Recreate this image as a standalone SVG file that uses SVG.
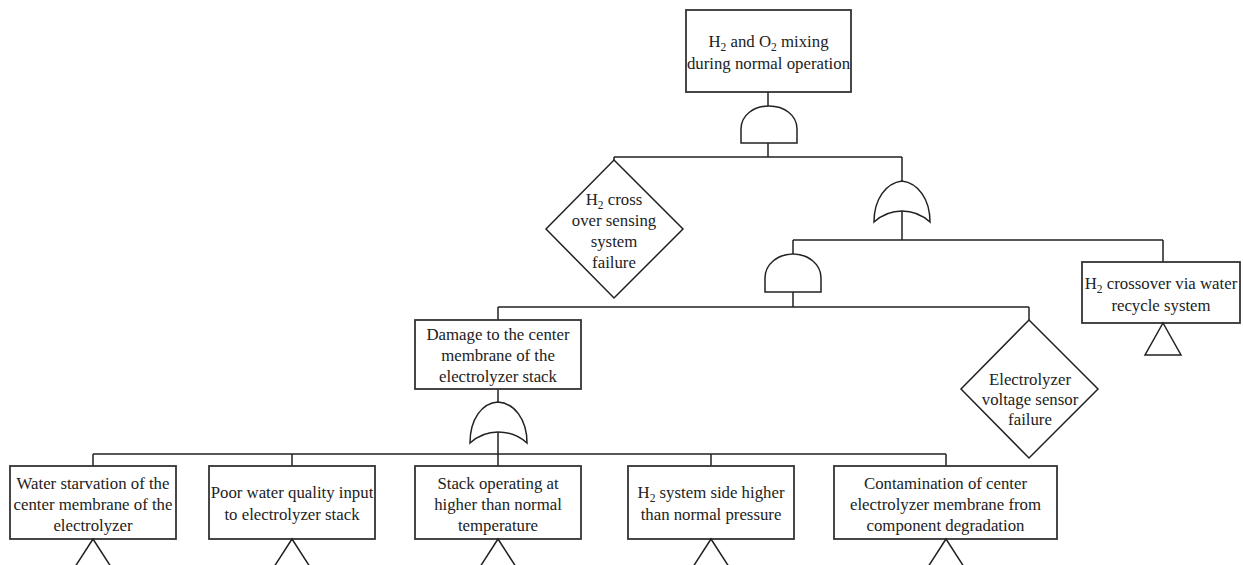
<svg xmlns="http://www.w3.org/2000/svg" width="1243" height="565" viewBox="0 0 1243 565">
<style>
.box{fill:#fff;stroke:#333;stroke-width:1.8}
.gate{fill:#fff;stroke:#222;stroke-width:1.5}
.ln{fill:none;stroke:#222;stroke-width:1.5}
.t{font-family:"Liberation Serif","Times New Roman",serif;font-size:16.8px;fill:#222;text-anchor:middle}
.sub{font-size:11.5px}
</style>
<rect width="1243" height="565" fill="#fff"/>
<g id="connectors">
<path class="ln" d="M768,92V106M768,143V157M614,157H902M614,157V161M902,157V181M902,211V240M793,240H1163M793,240V254M1163,240V262M793,292V307M498,307H1029M498,307V320M1029,307V320M498,389V402M498,432V454M93,454H946M93,454V466M292,454V466M498,454V466M711,454V466M946,454V466"/>
</g>
<g id="top-event">
<rect class="box" x="686" y="10" width="165" height="82"/>
<text class="t" x="768.5" y="47">H<tspan class="sub" dy="4">2</tspan><tspan dy="-4"> and O</tspan><tspan class="sub" dy="4">2</tspan><tspan dy="-4"> mixing</tspan></text>
<text class="t" x="768.5" y="69">during normal operation</text>
</g>
<g id="and-gate-1">
<path class="gate" d="M741,143V129C741,115 754,106 769,106C784,106 797,115 797,129V143Z"/>
</g>
<g id="diamond-h2-sensing">
<polygon class="gate" points="614,160 683,229 614,298 546,229"/>
<text class="t" x="614" y="205">H<tspan class="sub" dy="4">2</tspan><tspan dy="-4"> cross</tspan></text>
<text class="t" x="614" y="226">over sensing</text>
<text class="t" x="614" y="247">system</text>
<text class="t" x="614" y="268">failure</text>
</g>
<g id="or-gate-1">
<path class="gate" d="M874,222C874,199 886,183 902,181C918,183 930,199 930,222C920,213 911,211 902,211C893,211 884,213 874,222Z"/>
</g>
<g id="and-gate-2">
<path class="gate" d="M765,292V278C765,264 778,254 793,254C808,254 821,264 821,278V292Z"/>
</g>
<g id="h2-water-recycle">
<rect class="box" x="1082" y="262" width="158" height="61"/>
<text class="t" x="1161" y="289">H<tspan class="sub" dy="4">2</tspan><tspan dy="-4"> crossover via water</tspan></text>
<text class="t" x="1161" y="311">recycle system</text>
<polygon class="gate" points="1163,323 1181,355 1145,355"/>
</g>
<g id="damage-membrane">
<rect class="box" x="415" y="320" width="166" height="69"/>
<text class="t" x="498" y="340">Damage to the center</text>
<text class="t" x="498" y="361">membrane of the</text>
<text class="t" x="498" y="382">electrolyzer stack</text>
</g>
<g id="diamond-voltage-sensor">
<polygon class="gate" points="1029,320 1098,389 1029,458 961,389"/>
<text class="t" x="1030" y="385">Electrolyzer</text>
<text class="t" x="1030" y="405">voltage sensor</text>
<text class="t" x="1030" y="425">failure</text>
</g>
<g id="or-gate-2">
<path class="gate" d="M470,443C470,419 482,403 498,402C514,403 527,419 527,443C517,434 507,432 498,432C489,432 480,434 470,443Z"/>
</g>
<g id="water-starvation">
<rect class="box" x="10" y="466" width="166" height="73"/>
<text class="t" x="93" y="489">Water starvation of the</text>
<text class="t" x="93" y="510">center membrane of the</text>
<text class="t" x="93" y="531">electrolyzer</text>
<polygon class="gate" points="93,539 113,570 73,570"/>
</g>
<g id="poor-water-quality">
<rect class="box" x="209" y="466" width="166" height="73"/>
<text class="t" x="292" y="498">Poor water quality input</text>
<text class="t" x="292" y="520">to electrolyzer stack</text>
<polygon class="gate" points="292,539 312,570 272,570"/>
</g>
<g id="stack-temperature">
<rect class="box" x="415" y="466" width="166" height="73"/>
<text class="t" x="498" y="489">Stack operating at</text>
<text class="t" x="498" y="510">higher than normal</text>
<text class="t" x="498" y="531">temperature</text>
<polygon class="gate" points="498,539 518,570 478,570"/>
</g>
<g id="h2-pressure">
<rect class="box" x="628" y="466" width="166" height="73"/>
<text class="t" x="711" y="498">H<tspan class="sub" dy="4">2</tspan><tspan dy="-4"> system side higher</tspan></text>
<text class="t" x="711" y="520">than normal pressure</text>
<polygon class="gate" points="711,539 731,570 691,570"/>
</g>
<g id="contamination">
<rect class="box" x="834" y="466" width="223" height="73"/>
<text class="t" x="945.5" y="489">Contamination of center</text>
<text class="t" x="945.5" y="510">electrolyzer membrane from</text>
<text class="t" x="945.5" y="531">component degradation</text>
<polygon class="gate" points="946,539 966,570 926,570"/>
</g>
</svg>
